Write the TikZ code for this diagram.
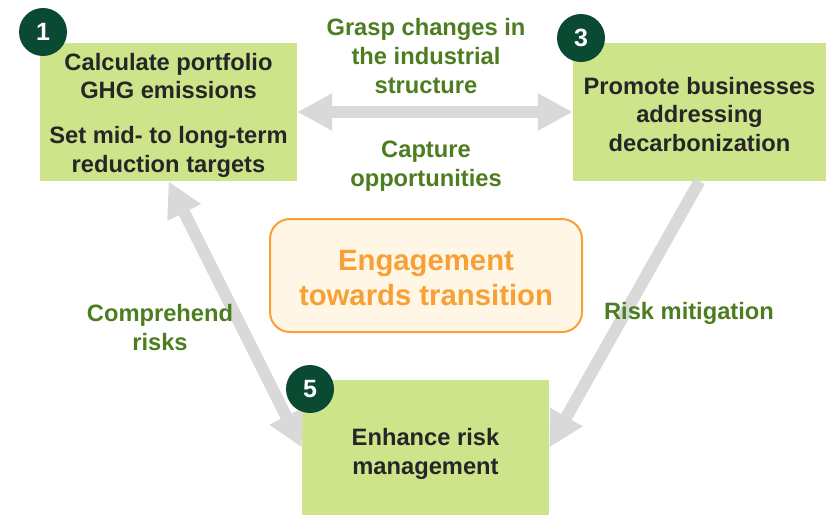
\documentclass[tikz,border=0pt]{standalone}
\usepackage{fontspec}
\setmainfont{Liberation Sans}
\usetikzlibrary{arrows.meta}
\definecolor{boxgreen}{HTML}{CDE48A}
\definecolor{darkgreen}{HTML}{0B4A32}
\definecolor{labgreen}{HTML}{4C7D1F}
\definecolor{arrowgray}{HTML}{D9D9D9}
\definecolor{engorange}{HTML}{F7A035}
\definecolor{engfill}{HTML}{FFF6E6}
\definecolor{txt}{HTML}{262626}
\tikzset{
  box/.style={fill=boxgreen, draw=none, inner sep=0pt},
  boxtext/.style={inner sep=0pt, align=center, text=txt,
    font=\bfseries\fontsize{23.7}{28.7}\selectfont},
  num/.style={circle, fill=darkgreen, text=white, minimum size=48pt, inner sep=0pt,
    font=\bfseries\fontsize{25}{25}\selectfont},
  garrow/.style={draw=arrowgray, line width=12pt, -{Triangle[length=35pt,width=35pt]}},
  gdarrow/.style={draw=arrowgray, line width=12pt, {Triangle[length=35pt,width=35pt]}-{Triangle[length=35pt,width=35pt]}},
  lab/.style={text=labgreen, align=center, font=\bfseries\fontsize{23.7}{29}\selectfont},
  eng/.style={rounded corners=20pt, draw=engorange, line width=2pt, fill=engfill,
    minimum width=312pt, minimum height=113pt},
  engtext/.style={text=engorange, align=center, inner sep=0pt,
    font=\bfseries\fontsize{29.3}{35}\selectfont}
}
\begin{document}
\begin{tikzpicture}[x=1pt,y=-1pt]
\useasboundingbox (0,0) rectangle (833,515);
% boxes
\node[box, minimum width=257pt, minimum height=138pt] (b1) at (168.5,112) {};
\node[box, minimum width=253pt, minimum height=138pt] (b3) at (699.5,112) {};
\node[box, minimum width=247pt, minimum height=135pt] (b5) at (425.5,447.5) {};
\node[boxtext] (t1) at (168.5,115)
  {Calculate portfolio\\GHG emissions\\[16pt]Set mid- to long-term\\reduction targets};
\node[boxtext] (t3) at (699.5,114.5) {Promote businesses\\addressing\\decarbonization};
\node[boxtext] (t5) at (425.5,454) {Enhance risk\\management};
% arrows
\draw[gdarrow] (b1.east) -- (b3.west);
\draw[gdarrow] (b1.south) -- (b5.west);
\draw[garrow] (b3.south) -- (b5.east);
% numbers
\node[num] (c1) at (43,32) {1};
\node[num] (c3) at (581,38) {3};
\node[num] (c5) at (310,389) {5};
% center
\node[eng] (e) at (426,275.5) {};
\node[engtext] (et) at (426,278.5) {Engagement\\towards transition};
% labels
\node[lab] (l1) at (426,56.5) {Grasp changes in\\the industrial\\structure};
\node[lab] (l2) at (426,166.5) {Capture\\opportunities};
\node[lab] (l3) at (160,327.5) {Comprehend\\risks};
\node[lab] (l4) at (689,313) {Risk mitigation};
\end{tikzpicture}
\end{document}
